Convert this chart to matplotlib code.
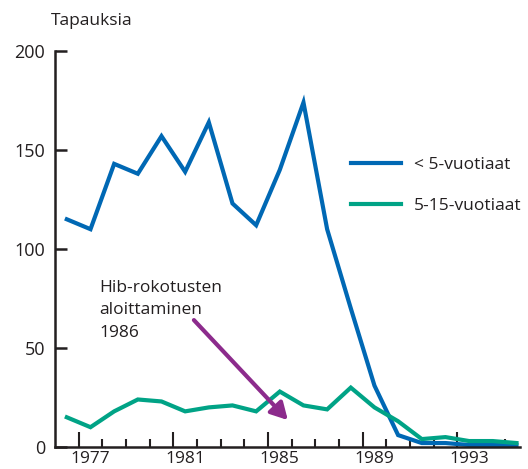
import matplotlib
matplotlib.use("Agg")
import matplotlib.pyplot as plt
import numpy as np

plt.rcParams['font.family'] = ['Open Sans', 'DejaVu Sans']

# Hib-tapaukset vuosittain
years = list(range(1976, 1996))
under5 = [115, 110, 143, 138, 157, 139, 164, 123, 112, 140,
          174, 110, 70, 31, 6, 2, 2, 1, 1, 1]
age5_15 = [15, 10, 18, 24, 23, 18, 20, 21, 18, 28,
           21, 19, 30, 20, 13, 4, 5, 3, 3, 2]
labels = ['< 5-vuotiaat', '5-15-vuotiaat']
year_labels = [1977, 1981, 1985, 1989, 1993]

blue = '#0068b4'
green = '#00a386'
purple = '#8c2b8c'
dark = '#231f20'

fig = plt.figure(figsize=(5.28, 4.69), dpi=100)
ax = fig.add_axes([55 / 528, 22 / 469, 465 / 528, 396 / 469])

l1, = ax.plot(years, under5, color=blue, lw=3, solid_joinstyle='miter')
l2, = ax.plot(years, age5_15, color=green, lw=3, solid_joinstyle='miter')

ax.set_xlim(1975.5, 1995.15)
ax.set_ylim(0, 200)

for s in ['top', 'right']:
    ax.spines[s].set_visible(False)
for s in ['left', 'bottom']:
    ax.spines[s].set_linewidth(1.8)
    ax.spines[s].set_color(dark)

ax.set_yticks([0, 50, 100, 150, 200])
ax.tick_params(axis='y', direction='in', length=8.5, width=1.8, pad=7,
               labelsize=13, colors=dark)

# x-akselin jakoviivat vuosien rajoilla, nimiöt vuosien kohdalla
ax.set_xticks(np.arange(1976.5, 1995, 4))
ax.set_xticks(np.arange(1976.5, 1995, 1), minor=True)
ax.tick_params(axis='x', which='major', direction='in', length=11, width=1.5,
               labelbottom=False, colors=dark)
ax.tick_params(axis='x', which='minor', direction='in', length=6, width=1.5,
               colors=dark)
for y in year_labels:
    ax.annotate(str(y), xy=(y, 0), xycoords=('data', 'axes fraction'),
                xytext=(0, -3), textcoords='offset points',
                ha='center', va='top', fontsize=12.5, color=dark)

fig.text(51 / 528, 1 - 21 / 469, 'Tapauksia', fontsize=12.5, color=dark,
         ha='left', va='center')

ax.legend([l1, l2], labels, loc='upper left',
          bbox_to_anchor=(280 / 465, 1 - 90 / 396), frameon=False,
          fontsize=12.5, handlelength=2.9, handletextpad=0.75,
          labelspacing=1.45, labelcolor=dark)

ax.text(1977.37, 84.5, 'Hib-rokotusten\naloittaminen\n1986', fontsize=12.5,
        color=dark, ha='left', va='top', linespacing=1.55,
        transform=ax.transData)

ax.annotate('', xy=(1985.34, 13.6), xytext=(1981.37, 64.1),
            arrowprops=dict(arrowstyle='-|>,head_length=1.0,head_width=0.55',
                            color=purple, lw=3, shrinkA=0, shrinkB=0))

fig.savefig('out.png', dpi=100)
